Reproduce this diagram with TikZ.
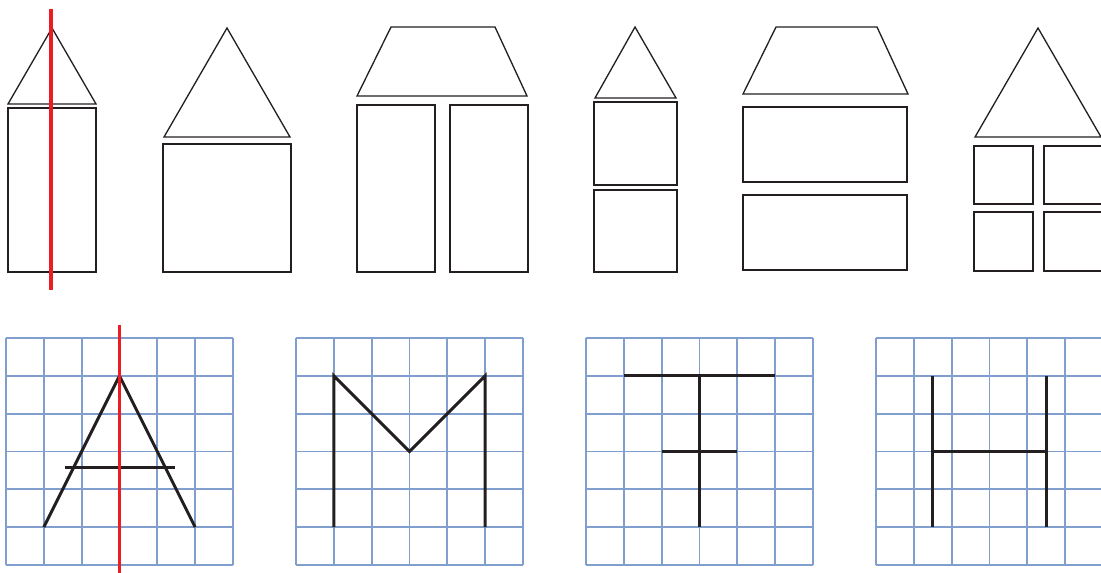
\documentclass[tikz,border=0pt]{standalone}
\usetikzlibrary{calc}
\definecolor{outlinecolor}{RGB}{35,31,32}
\definecolor{gridcolor}{RGB}{128,158,206}
\definecolor{axiscolor}{RGB}{237,28,36}
\tikzset{
shapeline/.style={
  draw=outlinecolor,
  line width=0.75pt
},
gridline/.style={
  draw=gridcolor,
  line width=1pt
},
letterline/.style={
  draw=outlinecolor,
  line width=1.7pt
},
symline/.style={
  draw=axiscolor,
  line width=2pt
},
panel/.style={
  x=0.7567cm,
  y=-0.7567cm
}
}
\begin{document}
\begin{tikzpicture}[x=0.02cm, y=-0.02cm]
\useasboundingbox (0,0) rectangle (1101,572);
\clip (0,0) rectangle (1101,572);
% top row: houses
\draw[shapeline] (8,104) -- (52,28) -- (96,104) -- cycle;
\draw[shapeline] (8,108) rectangle (96,272);
\draw[shapeline] (164,137) -- (227,28) -- (290,137) -- cycle;
\draw[shapeline] (163,144) rectangle (291,272);
\draw[shapeline] (357,96) -- (391,27) -- (495,27) -- (527,96) -- cycle;
\draw[shapeline] (357,105) rectangle (435,272);
\draw[shapeline] (450,105) rectangle (528,272);
\draw[shapeline] (595,98) -- (635,27) -- (676,98) -- cycle;
\draw[shapeline] (594,102) rectangle (677,185);
\draw[shapeline] (594,190) rectangle (677,272);
\draw[shapeline] (743,94) -- (776,27) -- (877,27) -- (908,94) -- cycle;
\draw[shapeline] (743,107) rectangle (907,182);
\draw[shapeline] (743,195) rectangle (907,270);
\draw[shapeline] (975,137) -- (1038,28) -- (1101,137) -- cycle;
\draw[shapeline] (974,146) rectangle (1033,204);
\draw[shapeline] (1044,146) rectangle (1103,204);
\draw[shapeline] (974,212) rectangle (1033,271);
\draw[shapeline] (1044,212) rectangle (1103,271);
\draw[symline] (51,9) -- (51,290);
% bottom row: grids
\foreach \gx in {6,296,586,876} {
  \begin{scope}[shift={(\gx,338)}, panel]
    \foreach \i in {0,...,6} {
      \draw[gridline] (\i,0) -- (\i,6);
      \draw[gridline] (0,\i) -- (6,\i);
    }
  \end{scope}
}
% letters
\begin{scope}[shift={(6,338)}, panel]
  \draw[letterline] (1,5) -- (3,1) -- (5,5);
  \draw[letterline] (1.55,3.43) -- (4.47,3.43);
  \draw[symline] (3,-0.35) -- (3,6.3);
\end{scope}
\begin{scope}[shift={(296,338)}, panel]
  \draw[letterline] (1,5) -- (1,1) -- (3,3) -- (5,1) -- (5,5);
\end{scope}
\begin{scope}[shift={(586,338)}, panel]
  \draw[letterline] (1,1) -- (5,1);
  \draw[letterline] (3,1) -- (3,5);
  \draw[letterline] (2,3) -- (4,3);
\end{scope}
\begin{scope}[shift={(876,338)}, panel]
  \draw[letterline] (1.5,1) -- (1.5,5);
  \draw[letterline] (4.5,1) -- (4.5,5);
  \draw[letterline] (1.5,3) -- (4.5,3);
\end{scope}
\end{tikzpicture}
\end{document}
